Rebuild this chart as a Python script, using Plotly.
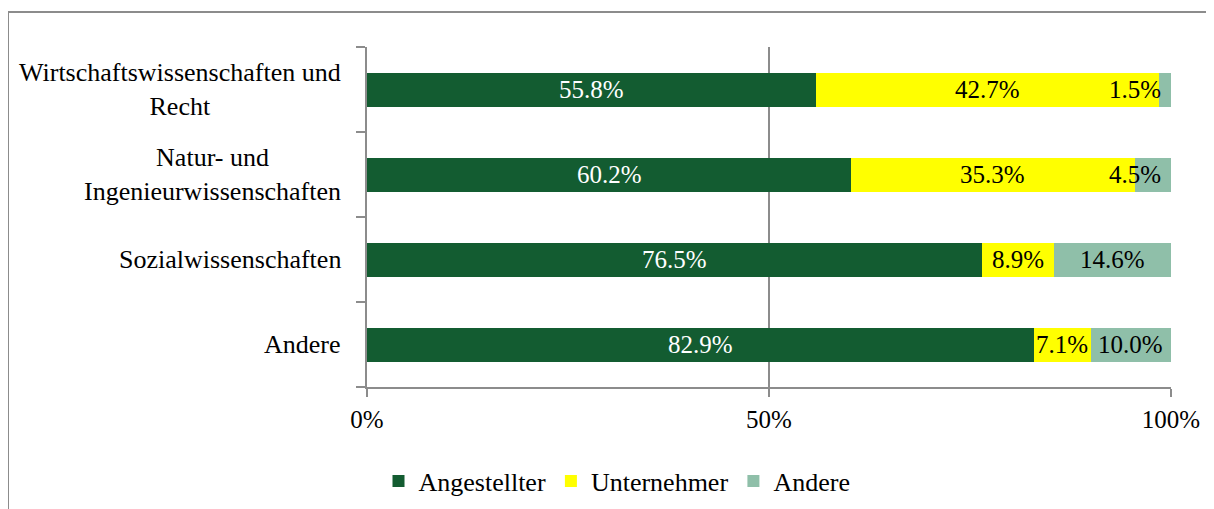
import plotly.graph_objects as go

categories = ["Wirtschaftswissenschaften und<br>Recht", "Natur- und<br>Ingenieurwissenschaften",
              "Sozialwissenschaften", "Andere"]
series_names = ["Angestellter", "Unternehmer", "Andere"]
angestellter = [55.8, 60.2, 76.5, 82.9]
unternehmer = [42.7, 35.3, 8.9, 7.1]
andere = [1.5, 4.5, 14.6, 10.0]
x_ticks = [0, 50, 100]
x_tick_labels = ["0%", "50%", "100%"]

colors = ["#135C31", "#FFFF00", "#8FBFA9"]
text_colors = ["white", "black", "black"]
FONT = "Liberation Serif"
GRID = "#8C8C8C"

OFF = 8  # default page body margin
W, H = 1214 - OFF, 509 - OFF
L, R, T, B = 367 - OFF, 1214 - 1171, 47 - OFF, 509 - 387
pw, ph = W - L - R, H - T - B

fig = go.Figure()
all_series = [angestellter, unternehmer, andere]
for name, vals, col in zip(series_names, all_series, colors):
    fig.add_trace(go.Bar(
        y=categories, x=vals, name=name, orientation="h",
        marker=dict(color=col, line=dict(width=0)), width=0.4,
        hoverinfo="x+y+name"))

annotations = []
# category labels (multi-line, centred lines, right-aligned block)
for cat in categories:
    annotations.append(dict(x=0, y=cat, xref="paper", yref="y", text=cat,
                            showarrow=False, xanchor="right", align="center",
                            xshift=-24, font=dict(family=FONT, size=26, color="black")))
# data labels
for i, cat in enumerate(categories):
    start = 0.0
    for s, vals in enumerate(all_series):
        v = vals[i]
        mid = start + v / 2
        label = f"{v:.1f}%"
        if s == len(all_series) - 1 and v < 6:
            annotations.append(dict(x=100, y=cat, xref="x", yref="y", text=label,
                                    showarrow=False, xanchor="right", xshift=-8,
                                    font=dict(family=FONT, size=25, color=text_colors[s])))
        else:
            annotations.append(dict(x=mid, y=cat, xref="x", yref="y", text=label,
                                    showarrow=False, xanchor="center",
                                    font=dict(family=FONT, size=25, color=text_colors[s])))
        start += v

fig.update_layout(
    width=W, height=H,
    margin=dict(l=L, r=R, t=T, b=B, pad=0, autoexpand=False),
    barmode="stack",
    plot_bgcolor="white", paper_bgcolor="white",
    font=dict(family=FONT, size=25, color="black"),
    annotations=annotations,
    legend=dict(orientation="h", x=(617 - 367) / pw, xanchor="center",
                y=-(481 - 387) / ph, yanchor="middle",
                font=dict(family=FONT, size=26, color="black"),
                itemwidth=30, traceorder="normal"),
    xaxis=dict(range=[0, 100], tickvals=x_ticks, ticktext=x_tick_labels,
               showgrid=True, gridcolor=GRID, gridwidth=2,
               showline=True, linecolor=GRID, linewidth=2, zeroline=False,
               ticks="outside", ticklen=8, tickwidth=2, tickcolor=GRID,
               ticklabelstandoff=1,
               tickfont=dict(family=FONT, size=25, color="black"), fixedrange=True),
    yaxis=dict(categoryorder="array", categoryarray=categories[::-1],
               showline=True, linecolor=GRID, linewidth=2,
               ticks="outside", ticklen=9, tickwidth=2, tickcolor=GRID,
               tickson="boundaries", showgrid=False, showticklabels=False,
               fixedrange=True),
    shapes=[
        # chart frame (top and left edges)
        dict(type="line", xref="paper", yref="paper",
             x0=(8 - 367) / pw, x1=(1214 - 367) / pw + 0.02,
             y0=1 + (47 - 12) / ph, y1=1 + (47 - 12) / ph,
             line=dict(color=GRID, width=2)),
        dict(type="line", xref="paper", yref="paper",
             x0=(8 - 367) / pw, x1=(8 - 367) / pw,
             y0=1 + (47 - 12) / ph, y1=-(509 - 387) / ph - 0.05,
             line=dict(color=GRID, width=2)),
    ],
)

fig.write_html("out.html")
